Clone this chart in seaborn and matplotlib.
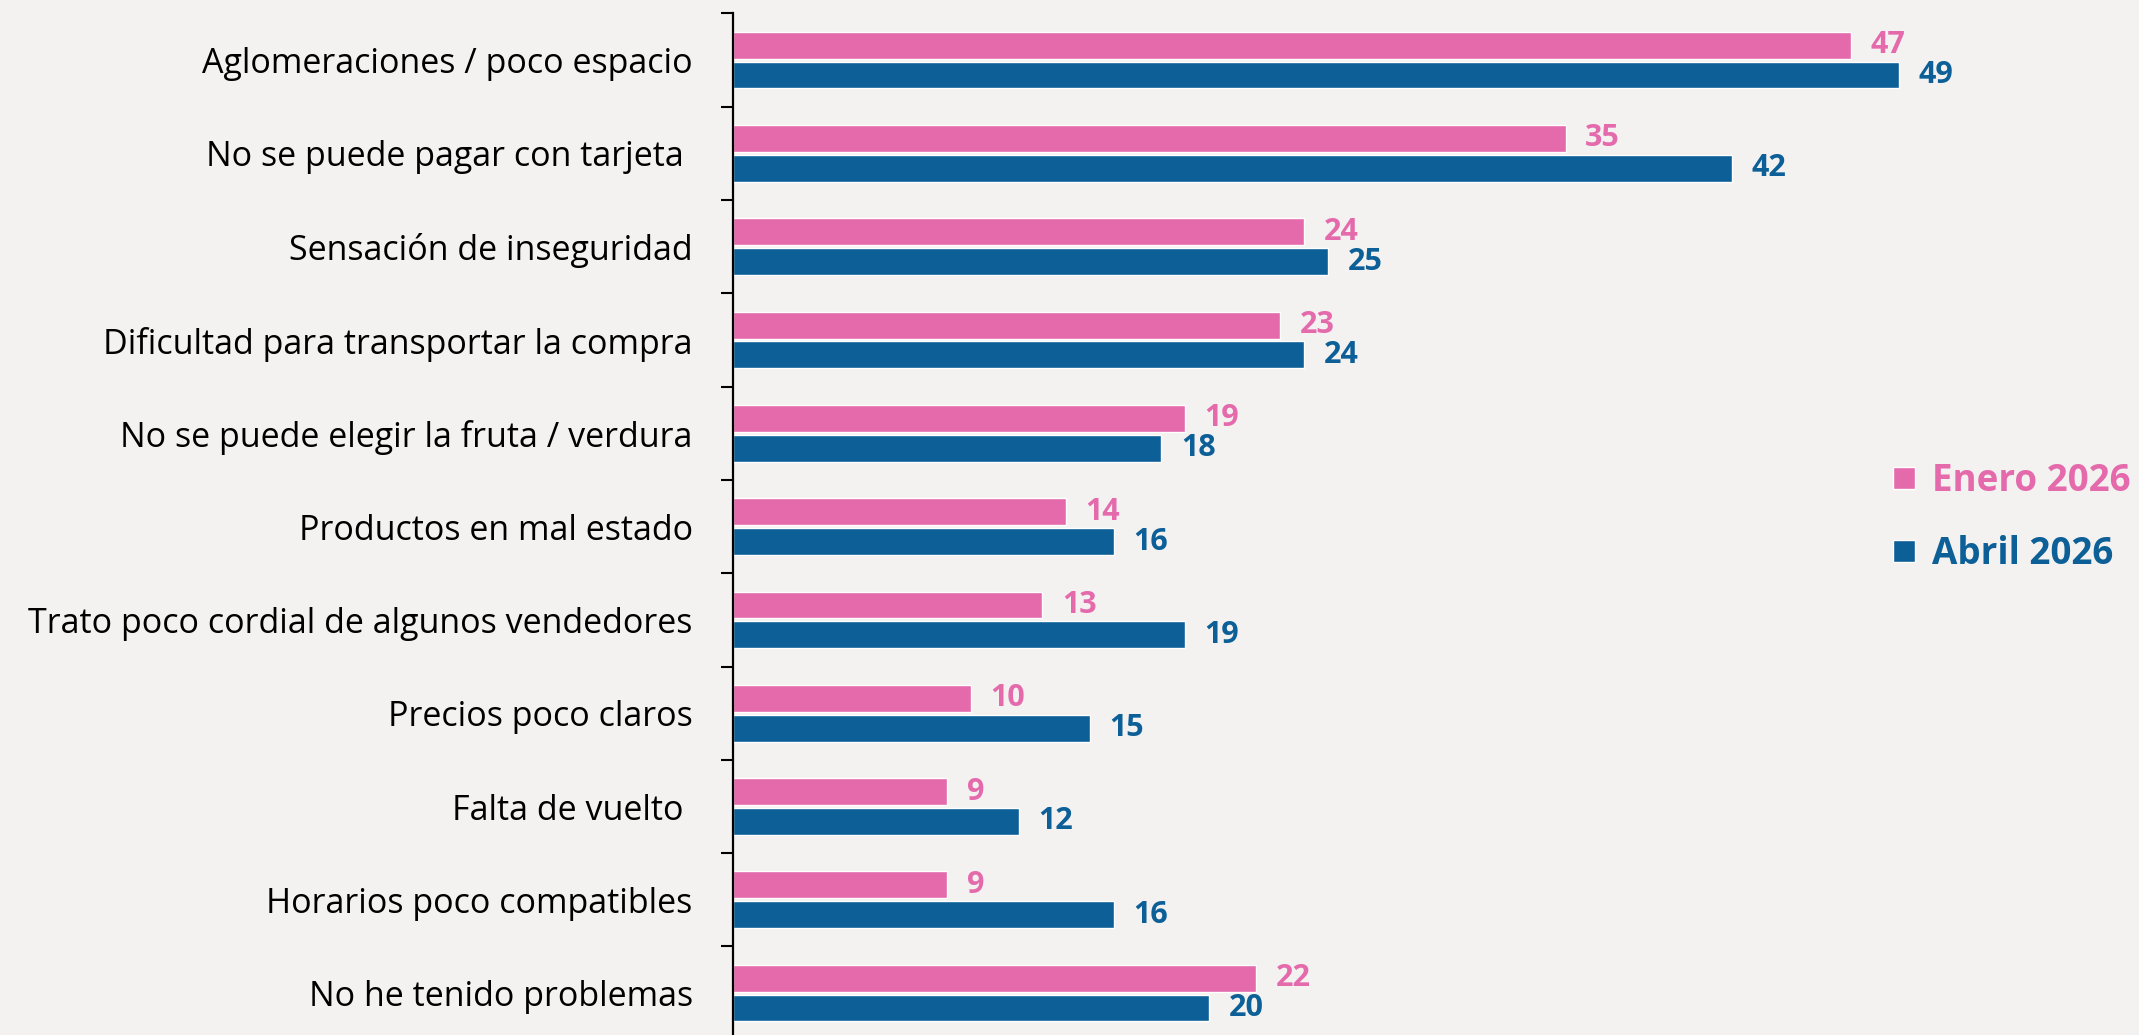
import numpy as np
import pandas as pd
import seaborn as sns
import matplotlib.pyplot as plt
from matplotlib.lines import Line2D

categorias = [
    "Aglomeraciones / poco espacio",
    "No se puede pagar con tarjeta ",
    "Sensación de inseguridad",
    "Dificultad para transportar la compra",
    "No se puede elegir la fruta / verdura",
    "Productos en mal estado",
    "Trato poco cordial de algunos vendedores",
    "Precios poco claros",
    "Falta de vuelto ",
    "Horarios poco compatibles",
    "No he tenido problemas",
]
enero_2026 = [47, 35, 24, 23, 19, 14, 13, 10, 9, 9, 22]
abril_2026 = [49, 42, 25, 24, 18, 16, 19, 15, 12, 16, 20]
series = ["Enero 2026", "Abril 2026"]

rosa = "#E46AAC"
azul = "#0C5F97"
fondo = "#F3F2F1"

df = pd.DataFrame({
    "categoria": categorias * 2,
    "serie": [series[0]] * len(categorias) + [series[1]] * len(categorias),
    "valor": enero_2026 + abril_2026,
})

sns.set_theme(style="white")
plt.rcParams["font.family"] = ["Open Sans", "DejaVu Sans"]

fig = plt.figure(figsize=(21.39, 10.35), dpi=100, facecolor=fondo)
ax = fig.add_axes([733 / 2139, -0.0046, 1392 / 2139, 0.9916])
ax.set_facecolor("none")

sns.barplot(data=df, y="categoria", x="valor", hue="serie", orient="h",
            palette=[rosa, azul], saturation=1, width=0.64, gap=0.1,
            edgecolor="white", linewidth=1, legend=False, ax=ax)

for cont, col in zip(ax.containers, [rosa, azul]):
    ax.bar_label(cont, fmt="%d", padding=14, color=col,
                 fontsize=22, fontweight="bold")

ax.set_xlim(0, 58.5)
ax.set_ylim(10.5, -0.5)
ax.set_xlabel("")
ax.set_ylabel("")
ax.set_xticks([])
for s in ["top", "right", "bottom"]:
    ax.spines[s].set_visible(False)
ax.spines["left"].set_color("black")
ax.spines["left"].set_linewidth(1.6)

ax.set_yticks(np.arange(-0.5, len(categorias), 1), minor=True)
ax.tick_params(axis="y", which="minor", length=8.5, width=1.5,
               color="black", direction="out", left=True)
ax.tick_params(axis="y", which="major", length=0, pad=29,
               labelsize=24.5, labelcolor="black")

handles = [Line2D([0], [0], marker="s", linestyle="", markersize=16,
                  markerfacecolor=c, markeredgecolor="white",
                  markeredgewidth=1) for c in [rosa, azul]]
fig.legend(handles, series, loc="center left",
           bbox_to_anchor=(1858 / 2139, 0.5), frameon=False,
           prop={"size": 26.5, "weight": "bold"},
           labelcolor=[rosa, azul], handlelength=0.7,
           handletextpad=0.4, labelspacing=0.95)

plt.savefig("out.png", dpi=100, facecolor=fondo)
